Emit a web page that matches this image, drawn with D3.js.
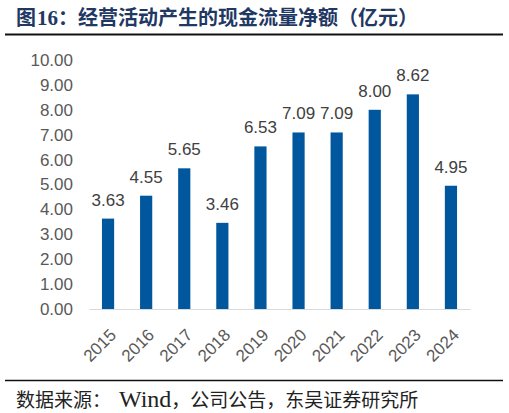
<!DOCTYPE html>
<html>
<head>
<meta charset="utf-8">
<script src="https://cdn.jsdelivr.net/npm/d3@7"></script>
<style>
  body { margin: 0; background: #fff; }
  svg { display: block; }
</style>
</head>
<body>
<script>
// chart data
const years = ["2015", "2016", "2017", "2018", "2019", "2020", "2021", "2022", "2023", "2024"];
const cashFlow = [3.63, 4.55, 5.65, 3.46, 6.53, 7.09, 7.09, 8.00, 8.62, 4.95];
const yTicks = [0, 1, 2, 3, 4, 5, 6, 7, 8, 9, 10];

// text pieces: [text, latin?]
const titleParts = [["图", false], ["16", true], ["：经营活动产生的现金流量净额（亿元）", false]];
const sourceParts = [["数据来源：", false], ["Wind", true], ["，公司公告，东吴证券研究所", false]];

const W = 509, H = 413;
const plot = { left: 89, right: 470, top: 60, bottom: 309 };
const serif = "'Liberation Serif', serif";
const cjk = "'Noto Sans CJK SC', sans-serif";

const svg = d3.select("body")
  .append("svg")
  .attr("width", W)
  .attr("height", H);

// lays out mixed text: every CJK char gets a full em box, latin runs are measured
function mixedText(parts, x0, y0, cjkSize, latinSize, latinGap, attrs) {
  const t = svg.append("text").attr("y", y0);
  Object.entries(attrs).forEach(([k, v]) => t.attr(k, v));
  let cx = x0;
  parts.forEach(([s, latin]) => {
    if (latin) {
      cx += latinGap;
      const ts = t.append("tspan")
        .attr("x", cx)
        .attr("font-family", serif)
        .attr("font-size", latinSize)
        .text(s);
      cx += ts.node().getComputedTextLength();
    } else {
      for (const ch of s) {
        t.append("tspan")
          .attr("x", cx)
          .attr("font-family", cjk)
          .attr("font-size", cjkSize)
          .text(ch);
        cx += cjkSize;
      }
    }
  });
}

// title + rule
mixedText(titleParts, 16, 24.5, 20, 21, 1, { "font-weight": "bold", fill: "#1f3864" });

svg.append("line")
  .attr("x1", 5).attr("x2", 503)
  .attr("y1", 34.5).attr("y2", 34.5)
  .attr("stroke", "#111")
  .attr("stroke-width", 2);

// scales
const x = d3.scaleBand()
  .domain(years)
  .range([plot.left, plot.right])
  .paddingInner(0.68)
  .paddingOuter(0.34);

const y = d3.scaleLinear()
  .domain([0, 10])
  .range([plot.bottom, plot.top]);

// y axis (labels only)
const yAxis = svg.append("g")
  .attr("transform", `translate(${plot.left},0)`)
  .call(d3.axisLeft(y).tickValues(yTicks).tickFormat(d3.format(".2f")).tickSize(0).tickPadding(16));
yAxis.select(".domain").remove();
yAxis.selectAll("text")
  .attr("font-family", "'Liberation Sans', Arial, sans-serif")
  .attr("font-size", 17)
  .attr("fill", "#595959");

// bars
svg.selectAll(".bar")
  .data(cashFlow)
  .enter().append("rect")
  .attr("class", "bar")
  .attr("x", (d, i) => x(years[i]))
  .attr("width", x.bandwidth())
  .attr("y", d => y(d))
  .attr("height", d => y(0) - y(d))
  .attr("fill", "#00579e");

// value labels
svg.selectAll(".val")
  .data(cashFlow)
  .enter().append("text")
  .attr("class", "val")
  .attr("x", (d, i) => x(years[i]) + x.bandwidth() / 2)
  .attr("y", d => y(d) - 13)
  .attr("text-anchor", "middle")
  .attr("font-family", "'Liberation Sans', Arial, sans-serif")
  .attr("font-size", 17)
  .attr("fill", "#404040")
  .text(d => d.toFixed(2));

// x axis
const xAxis = svg.append("g")
  .attr("transform", `translate(0,${plot.bottom})`)
  .call(d3.axisBottom(x).tickSize(0).tickSizeOuter(0));
xAxis.select(".domain").attr("stroke", "#d9d9d9").attr("stroke-width", 1);
xAxis.selectAll("text")
  .attr("font-family", "'Liberation Sans', Arial, sans-serif")
  .attr("font-size", 17)
  .attr("fill", "#595959")
  .attr("text-anchor", "end")
  .attr("dy", 0)
  .attr("transform", "translate(7,25) rotate(-45)");

// footer rule + source
svg.append("line")
  .attr("x1", 5).attr("x2", 503)
  .attr("y1", 380.5).attr("y2", 380.5)
  .attr("stroke", "#111")
  .attr("stroke-width", 1.5);

mixedText(sourceParts, 16, 407, 19, 24, 8, { fill: "#222" });
</script>
</body>
</html>
